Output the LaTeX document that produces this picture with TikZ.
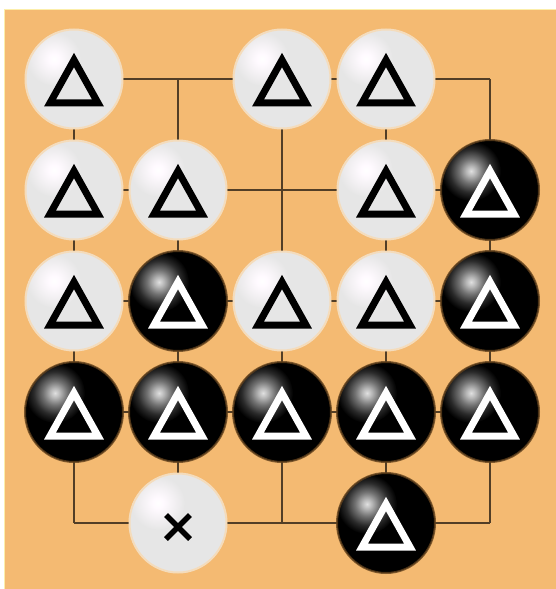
\documentclass[tikz,border=0pt]{standalone}
\usetikzlibrary{calc}
\definecolor{board}{RGB}{244,186,114}
\definecolor{gridc}{RGB}{82,62,38}
\definecolor{wstone}{RGB}{230,230,230}
\definecolor{wrim}{RGB}{244,220,188}
\definecolor{brim}{RGB}{96,64,28}
\definecolor{edgey}{RGB}{252,238,170}
\definecolor{bhlc}{gray}{0.88}
\definecolor{bhlm}{gray}{0.72}
\definecolor{bhln}{gray}{0.45}
\definecolor{bhld}{gray}{0.16}
\definecolor{whlc}{RGB}{255,250,255}
\pgfdeclareradialshading{whl}{\pgfpoint{0bp}{0bp}}{color(0bp)=(white); color(5bp)=(whlc); color(25bp)=(wstone); color(50bp)=(wstone)}
\pgfdeclareradialshading{bhl}{\pgfpoint{0bp}{0bp}}{color(0bp)=(bhlc); color(4bp)=(bhlm); color(10bp)=(bhln); color(18bp)=(bhld); color(25bp)=(black); color(50bp)=(black)}
\tikzset{
  gridline/.style={draw=gridc, line width=1.4bp},
  wst/.pic={
    \fill[wstone] (0,0) ellipse [x radius=49, y radius=50];
    \begin{scope}
      \clip (0,0) ellipse [x radius=49, y radius=50];
      \shade[shading=whl] (-20,-20) circle (27);
    \end{scope}
    \draw[wrim, line width=2bp] (0,0) ellipse [x radius=48.5, y radius=49.5];
  },
  bst/.pic={
    \fill[black] (0,0) ellipse [x radius=49, y radius=50];
    \begin{scope}
      \clip (0,0) ellipse [x radius=49, y radius=50];
      \shade[shading=bhl] (-19,-19) circle (30);
    \end{scope}
    \draw[brim, line width=2bp, opacity=0.8] (0,0) ellipse [x radius=49, y radius=50];
  },
  tri/.pic={
    \draw[line width=7bp, line join=miter, pic actions] (0,-19) -- (24,24) -- (-24,24) -- cycle;
  },
  crossmark/.pic={
    \draw[line width=5.5bp, line cap=butt, pic actions] (-12,-12) -- (12,12) (-12,12) -- (12,-12);
  }
}
\begin{document}
\begin{tikzpicture}[x=1bp,y=-1bp]
\useasboundingbox (0,0) rectangle (556,589);
\fill[white] (-10,-10) rectangle (570,600);
\fill[board] (4,9) rectangle (570,600);
\draw[edgey, line width=1bp] (4.5,600) -- (4.5,9.5) -- (570,9.5);
% grid points
\foreach \i/\x in {1/74,2/178,3/282,4/386,5/490}
  \foreach \j/\y in {1/79,2/190,3/301,4/412,5/523}
    \coordinate (p\i\j) at (\x,\y);
% grid lines
\foreach \j in {1,...,5} \draw[gridline] (p1\j) -- (p5\j);
\foreach \i in {1,...,5} \draw[gridline] (p\i1) -- (p\i5);
% white stones with black triangles
\foreach \p in {11,31,41,12,22,42,13,33,43} {
  \pic at (p\p) {wst};
  \pic[draw=black] at (p\p) {tri};
}
% black stones with white triangles
\foreach \p in {52,23,53,14,24,34,44,54,45} {
  \pic at (p\p) {bst};
  \pic[draw=white] at (p\p) {tri};
}
% white stone with cross
\pic at (p25) {wst};
\coordinate (xm) at ($(p25)+(0,4)$);
\pic[draw=black] at (xm) {crossmark};
\end{tikzpicture}
\end{document}
